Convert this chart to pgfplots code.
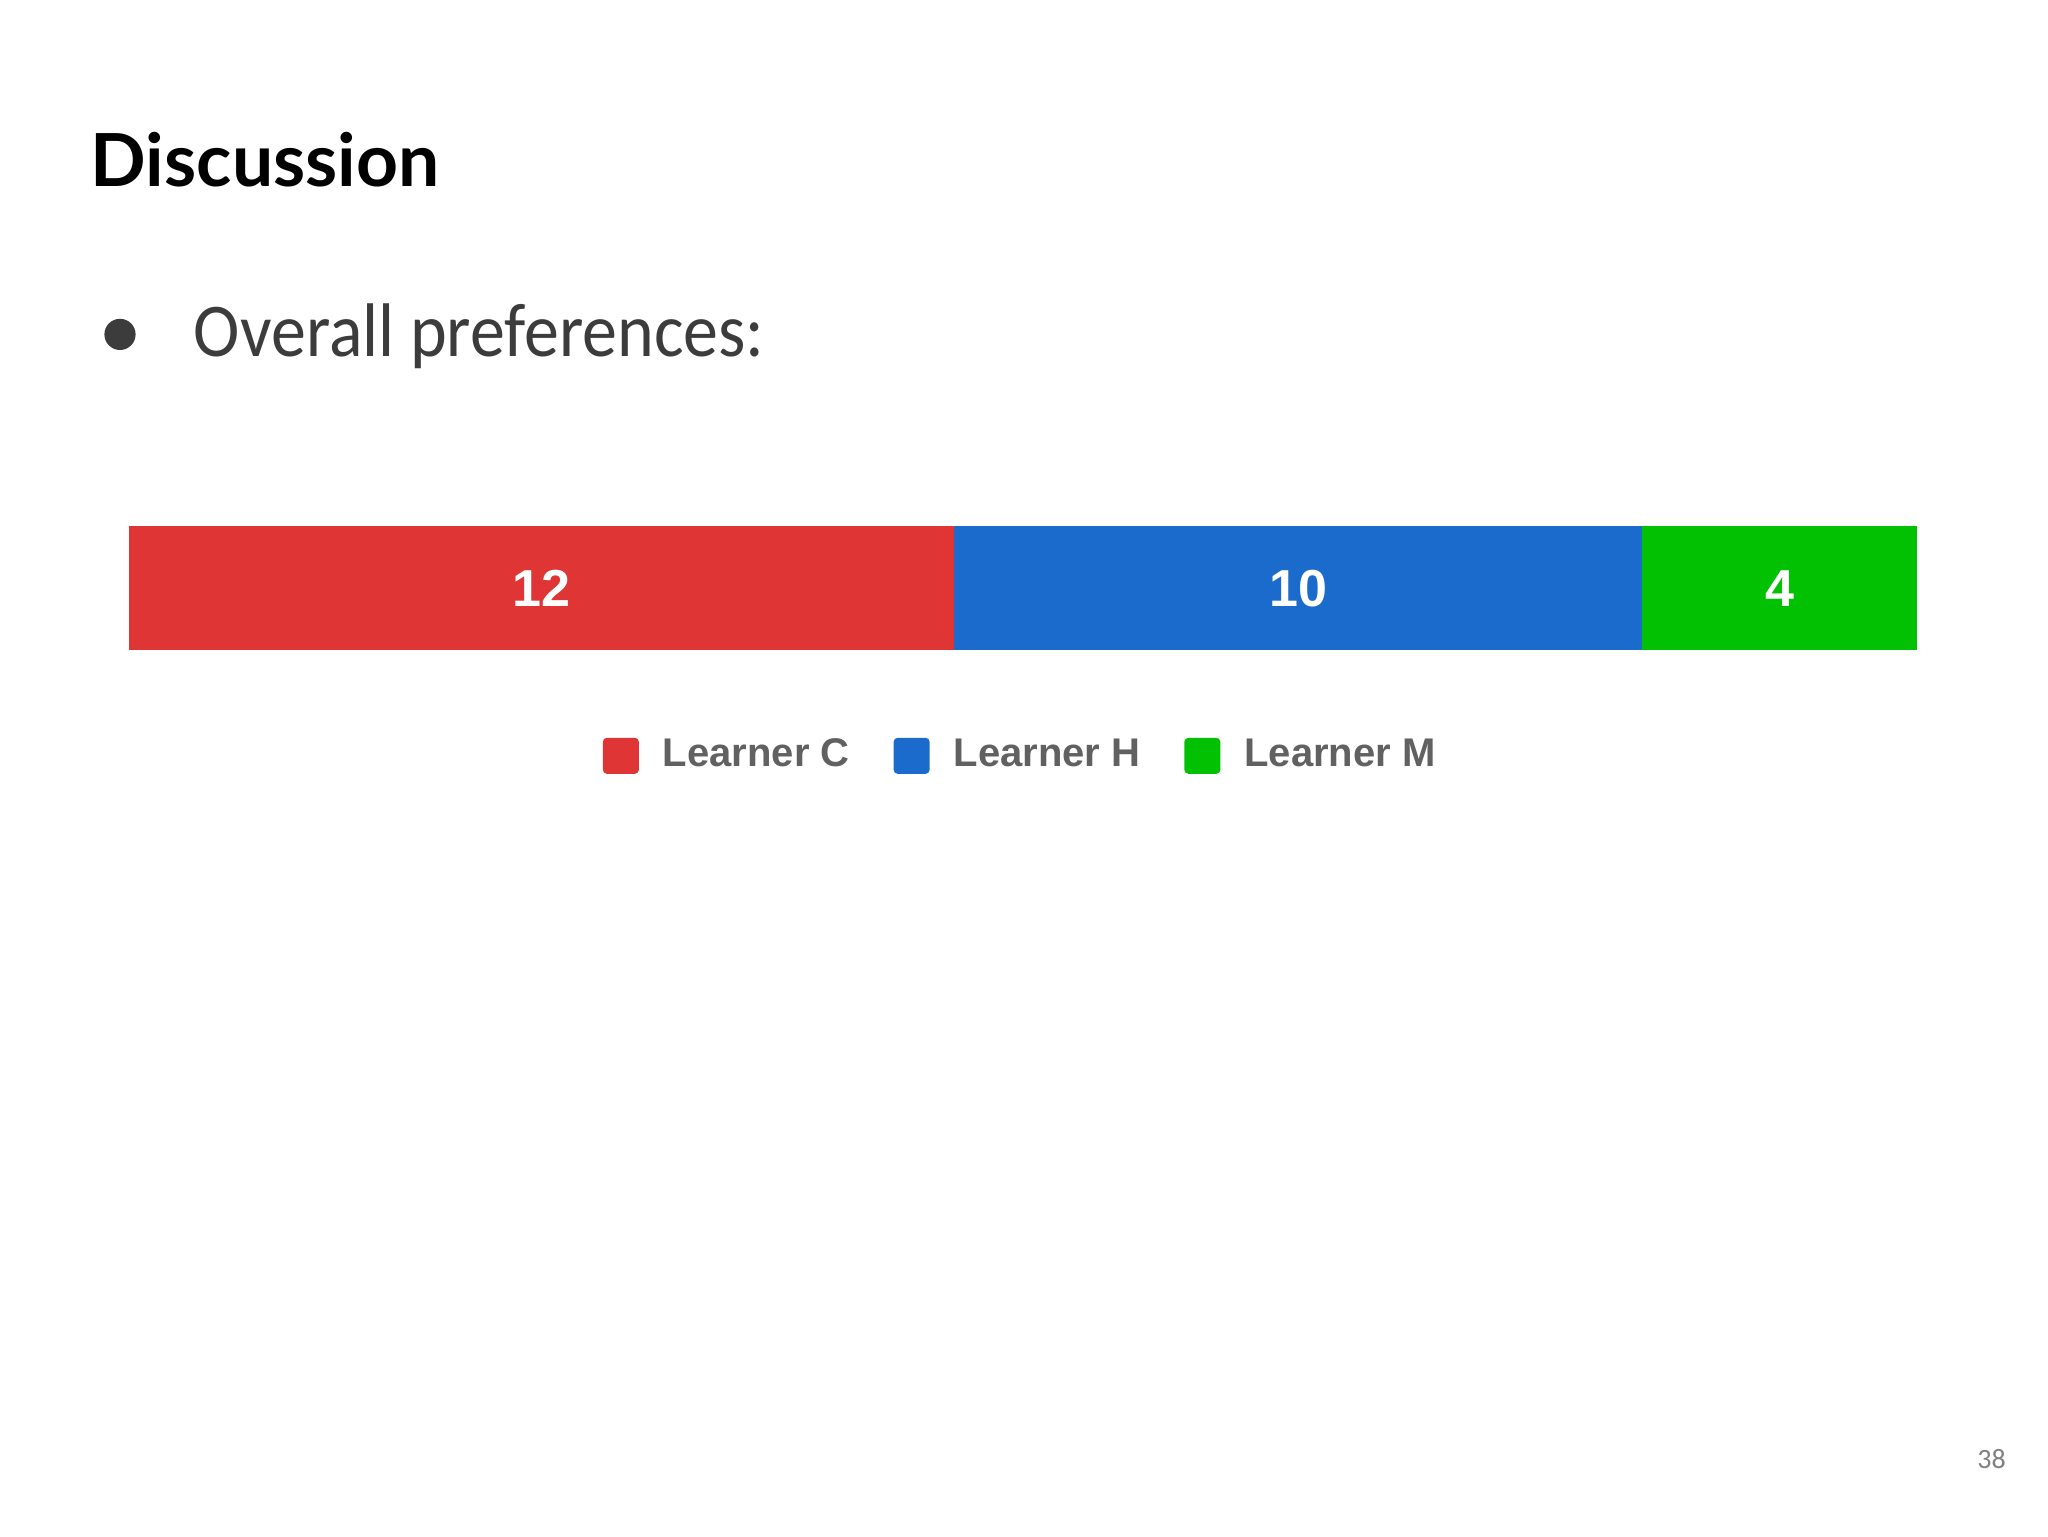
\documentclass[border=0pt]{standalone}
\usepackage{fontspec}
\usepackage{pgfplots}
\pgfplotsset{compat=1.18}
\setmainfont{Liberation Sans}
\newfontfamily\titlefont{Lato}
\newfontfamily\bodyfont{Carlito}

\definecolor{barred}{RGB}{223,53,53}
\definecolor{barblue}{RGB}{26,107,204}
\definecolor{bargreen}{RGB}{2,193,2}
\definecolor{legendgray}{RGB}{97,97,97}
\definecolor{bodygray}{RGB}{60,60,60}

\begin{document}
\begin{tikzpicture}
% page 512pt x 384pt
\fill[white] (0,0) rectangle (512pt,384pt);
\path[use as bounding box] (0,0) rectangle (512pt,384pt);

\node[anchor=base west, inner sep=0pt, font=\titlefont\bfseries\fontsize{18.3}{22}\selectfont]
  at (22.5pt,337.3pt) {Discussion};
\fill[bodygray] (30.0pt,300.4pt) circle (3.9pt);
\node[anchor=base west, inner sep=0pt, text=bodygray, font=\bodyfont\fontsize{19}{22}\selectfont]
  at (48.3pt,294.9pt) {\scalebox{0.92}[1]{Overall preferences:}};
\node[anchor=center, inner sep=0pt, text=gray, font=\bodyfont\fontsize{7}{8}\selectfont]
  at (497.9pt,19.3pt) {38};

\begin{axis}[
  at={(32.3pt,221.4pt)}, anchor=south west,
  width=447pt, height=31pt, scale only axis,
  xbar stacked, bar width=31pt,
  xmin=0, xmax=26, ymin=-0.5, ymax=0.5,
  hide axis, clip=false,
  legend columns=3,
  legend style={at={(0.5,-0.85)}, anchor=center, draw=none, fill=none,
    font=\bfseries\fontsize{10}{12}\selectfont, text=legendgray,
    /tikz/every even column/.append style={column sep=9pt}},
  legend image code/.code={\path (13pt,0pt);
    \fill[#1, rounded corners=1pt] (0pt,-4.5pt) rectangle (9pt,4.5pt);},
]
\addplot[fill=barred, draw=none] coordinates {(12,0)};
\addplot[fill=barblue, draw=none] coordinates {(10,0)};
\addplot[fill=bargreen, draw=none] coordinates {(4,0)};
\legend{Learner C, Learner H, Learner M}
\coordinate (vc) at (axis cs:6,0);
\coordinate (vh) at (axis cs:17,0);
\coordinate (vm) at (axis cs:24,0);
\end{axis}
\node[text=white, font=\bfseries\fontsize{13}{14}\selectfont] at (vc) {12};
\node[text=white, font=\bfseries\fontsize{13}{14}\selectfont] at (vh) {10};
\node[text=white, font=\bfseries\fontsize{13}{14}\selectfont] at (vm) {4};
\end{tikzpicture}
\end{document}
